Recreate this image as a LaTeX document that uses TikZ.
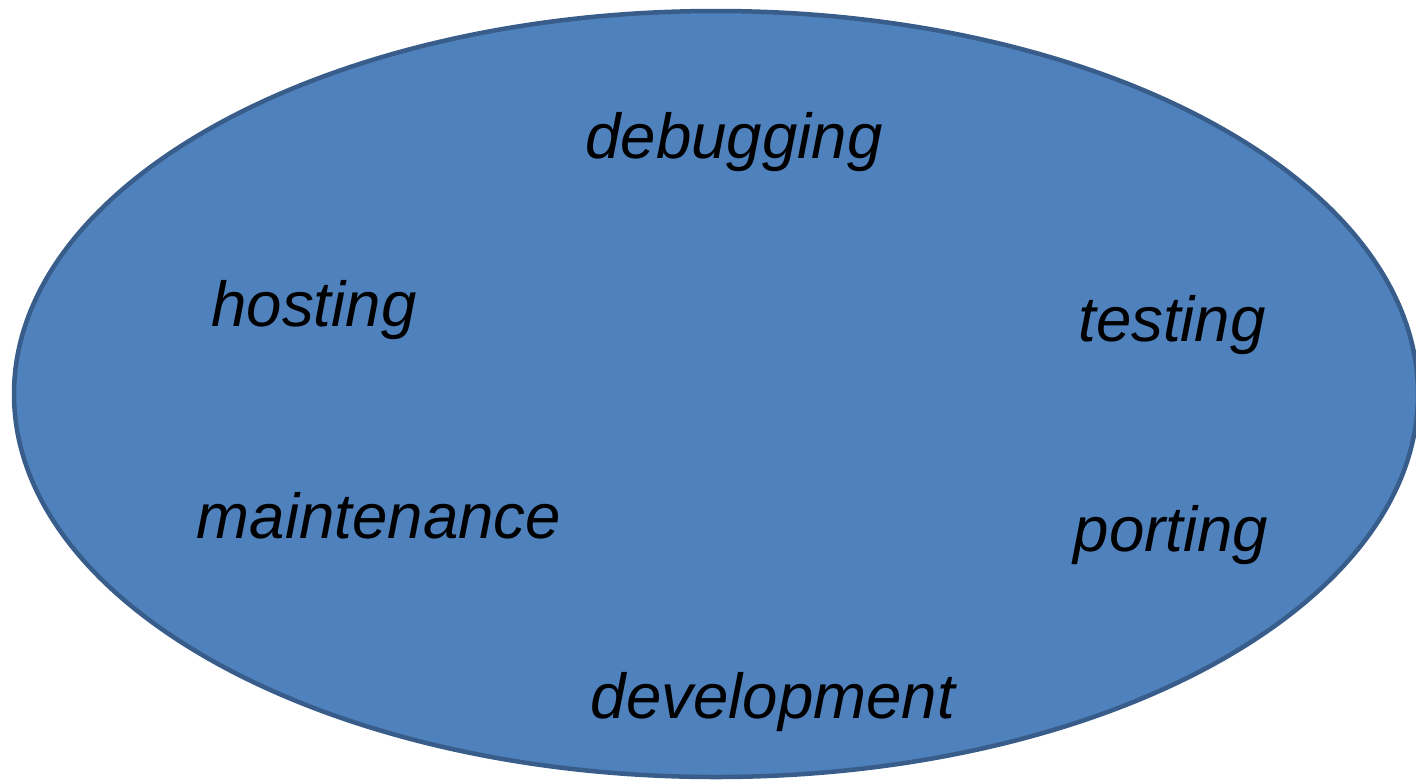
\documentclass[tikz,border=0pt]{standalone}
\usepackage{fontspec}
\setmainfont{Liberation Sans}
\definecolor{fillblue}{HTML}{4F81BD}
\definecolor{edgeblue}{HTML}{385D8A}
\begin{document}
\begin{tikzpicture}[x=1pt,y=-1pt,
  word/.style={font=\fontsize{63.6}{70}\selectfont\itshape, text=black, anchor=base, inner sep=0pt}]
\useasboundingbox (0,0) rectangle (1416,780);
\begin{scope}
\clip (0,0) rectangle (1416,780);
\draw[fill=fillblue, draw=edgeblue, line width=4.5pt] (716,394) ellipse [x radius=702, y radius=383];
\end{scope}
\node[word] (debugging) at (734,158) {debugging};
\node[word] (hosting) at (314,326) {hosting};
\node[word] (testing) at (1172,341) {testing};
\node[word] (maintenance) at (379,538) {maintenance};
\node[word] (porting) at (1171,551) {porting};
\node[word] (development) at (773,718) {development};
\end{tikzpicture}
\end{document}
